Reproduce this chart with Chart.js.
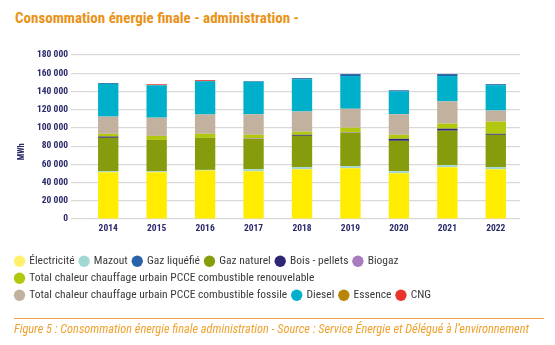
<!DOCTYPE html>
<html lang="fr">
<head>
<meta charset="utf-8">
<title>Consommation énergie finale - administration</title>
<script src="https://cdn.jsdelivr.net/npm/chart.js@4.4.1/dist/chart.umd.min.js"></script>
<style>
  html, body { margin: 0; padding: 0; background: #ffffff; }
  body {
    width: 555px; height: 345px; position: relative; overflow: hidden;
    font-family: 'Roboto Condensed', 'Roboto', sans-serif;
  }
  #chart { position: absolute; left: 0; top: 0; }
  #title {
    position: absolute; left: 15px; top: 9px; white-space: nowrap;
    font-weight: bold; font-size: 15px; color: #ea9218;
  }
  #rule {
    position: absolute; left: 14px; top: 318px; width: 530px; height: 0;
    border-top: 1px solid #eaa443;
  }
  #caption {
    position: absolute; left: 14px; top: 322px; white-space: nowrap;
    font-style: italic; font-size: 12.3px; color: #f0a22e;
  }
</style>
</head>
<body>
<div id="title">Consommation énergie finale - administration -</div>
<canvas id="chart" width="555" height="345"></canvas>
<div id="rule"></div>
<div id="caption">Figure 5 : Consommation énergie finale administration - Source : Service Énergie et Délégué à l’environnement</div>

<script>
// Years on the category axis
const years = ['2014', '2015', '2016', '2017', '2018', '2019', '2020', '2021', '2022'];

// Final energy consumption per carrier, MWh
const electricite   = [51300, 51300, 53200, 52400, 54700, 55800, 50200, 56900, 54700];
const mazout        = [1200, 1100, 700, 2200, 2200, 2200, 2200, 2200, 2200];
const gazNaturel    = [36600, 34400, 35200, 33400, 34400, 36700, 33400, 37800, 35500];
const boisPellets   = [1400, 0, 0, 0, 1100, 0, 2200, 2200, 1100];
const biogaz        = [0, 0, 0, 700, 0, 700, 0, 0, 0];
const pcceRenouv    = [3000, 4400, 4400, 3700, 3300, 4800, 4400, 5600, 13400];
const pcceFossile   = [18900, 20000, 21200, 22600, 22300, 20800, 22600, 24400, 12200];
const diesel        = [35900, 35600, 36600, 35600, 35500, 35900, 25200, 27800, 27800];
const gazLiquefie   = [1000, 0, 0, 700, 1100, 2200, 1100, 2200, 1100];
const essence       = [0, 0, 0, 0, 0, 0, 0, 0, 0];
const cng           = [0, 1100, 1100, 0, 0, 0, 0, 0, 0];

// Value axis
const yMax = 180000;
const yStep = 20000;
const yTitle = 'MWh';

// Order of the entries in the legend
const legendOrder = [
  'Électricité', 'Mazout', 'Gaz liquéfié', 'Gaz naturel', 'Bois - pellets', 'Biogaz',
  'Total chaleur chauffage urbain PCCE combustible renouvelable',
  'Total chaleur chauffage urbain PCCE combustible fossile',
  'Diesel', 'Essence', 'CNG'
];

const navy = '#2b2a6c';
const fontFamily = "'Roboto Condensed', 'Roboto', sans-serif";

// Datasets listed bottom to top of each stack
const series = [
  { label: 'Électricité', data: electricite, color: '#ffec00', key: '#fff06a' },
  { label: 'Mazout', data: mazout, color: '#a3d7d3' },
  { label: 'Gaz naturel', data: gazNaturel, color: '#879c0c' },
  { label: 'Bois - pellets', data: boisPellets, color: '#2c2675' },
  { label: 'Biogaz', data: biogaz, color: '#a77bbd' },
  { label: 'Total chaleur chauffage urbain PCCE combustible renouvelable', data: pcceRenouv, color: '#b2c80f' },
  { label: 'Total chaleur chauffage urbain PCCE combustible fossile', data: pcceFossile, color: '#c1b19e' },
  { label: 'Diesel', data: diesel, color: '#00b0cb' },
  { label: 'Gaz liquéfié', data: gazLiquefie, color: '#2a64a8' },
  { label: 'Essence', data: essence, color: '#b98509' },
  { label: 'CNG', data: cng, color: '#e8342c' }
];

const formatThousands = v => String(v).replace(/\B(?=(\d{3})+(?!\d))/g, ' ');

// Vertical unit label, set a little below the middle of the value axis
const unitLabel = {
  id: 'unitLabel',
  afterDraw(chart) {
    const { ctx, chartArea, scales } = chart;
    const y = scales.y.getPixelForValue(yMax * 0.41);
    ctx.save();
    ctx.translate(chartArea.left - 62, y);
    ctx.rotate(-Math.PI / 2);
    ctx.fillStyle = navy;
    ctx.font = `bold 8.5px ${fontFamily}`;
    ctx.textAlign = 'center';
    ctx.textBaseline = 'middle';
    ctx.fillText(yTitle, 0, 0);
    ctx.restore();
  }
};

new Chart(document.getElementById('chart'), {
  type: 'bar',
  data: {
    labels: years,
    datasets: series.map(s => ({
      label: s.label,
      data: s.data,
      backgroundColor: s.color,
      borderWidth: 0,
      categoryPercentage: 0.42,
      barPercentage: 1
    }))
  },
  options: {
    responsive: false,
    animation: false,
    layout: { padding: { top: 55, left: 10, right: 35, bottom: 34 } },
    scales: {
      x: {
        stacked: true,
        grid: { display: false, drawTicks: false },
        border: { display: false },
        ticks: {
          color: navy, padding: 4,
          font: { family: fontFamily, size: 9.5, weight: 'bold' }
        },
        afterFit: scale => { scale.height = 31; }
      },
      y: {
        stacked: true,
        min: 0, max: yMax,
        grid: { color: '#d9d9d9', lineWidth: 1.2, drawTicks: true, tickLength: 13, tickColor: '#d9d9d9' },
        border: { display: false },
        ticks: {
          stepSize: yStep, color: navy, padding: 3,
          font: { family: fontFamily, size: 9.5, weight: 'bold' },
          callback: v => formatThousands(v)
        },
        afterFit: scale => { scale.width = 74; }
      }
    },
    plugins: {
      legend: {
        position: 'bottom',
        align: 'start',
        labels: {
          usePointStyle: true,
          pointStyle: 'circle',
          boxWidth: 8,
          boxHeight: 8,
          padding: 5.5,
          color: '#3a3a3a',
          font: { family: fontFamily, size: 11.5 },
          generateLabels: chart => Chart.defaults.plugins.legend.labels.generateLabels(chart).map(item => {
            const s = series[item.datasetIndex];
            const c = s.key || s.color;
            return Object.assign(item, { fillStyle: c, strokeStyle: c, lineWidth: 0 });
          }),
          sort: (a, b) => legendOrder.indexOf(a.text) - legendOrder.indexOf(b.text)
        }
      },
      tooltip: { enabled: false }
    }
  },
  plugins: [unitLabel]
});
</script>
</body>
</html>
